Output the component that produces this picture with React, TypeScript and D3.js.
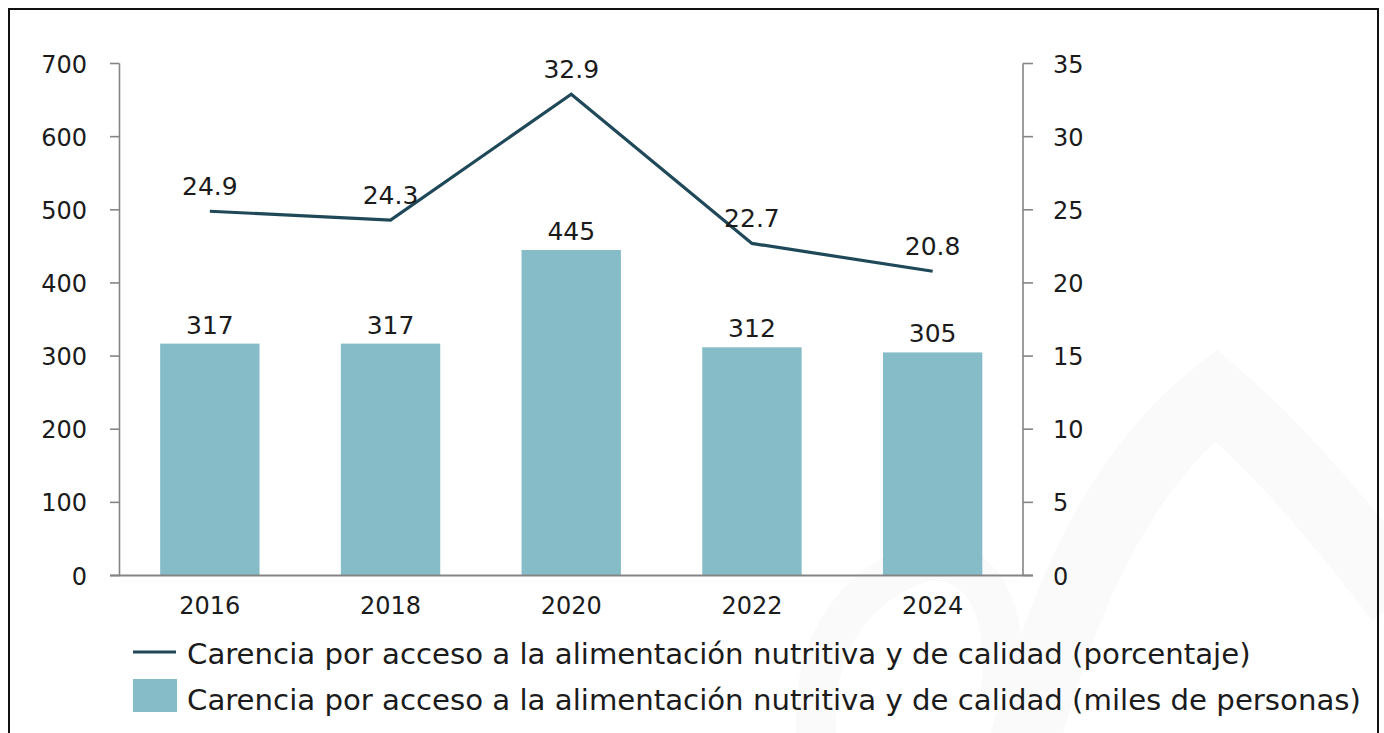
import React from "react";
import * as d3 from "d3";

const years = ["2016", "2018", "2020", "2022", "2024"];
const personas = [317, 317, 445, 312, 305];
const porcentaje = [24.9, 24.3, 32.9, 22.7, 20.8];
const leftTicks = [0, 100, 200, 300, 400, 500, 600, 700];
const rightTicks = [0, 5, 10, 15, 20, 25, 30, 35];
const legendLine = "Carencia por acceso a la alimentación nutritiva y de calidad (porcentaje)";
const legendBar = "Carencia por acceso a la alimentación nutritiva y de calidad (miles de personas)";

const W = 1384;
const H = 733;
const plot = { left: 119.5, right: 1023, top: 63.5, bottom: 575.5 };
const FONT = "'DejaVu Sans', sans-serif";
const BAR = "#86bcc7";
const LINE = "#1f4858";
const AXIS = "#858585";
const TEXT = "#1b1b1b";

export default function App() {
  const x = d3
    .scaleBand<string>()
    .domain(years)
    .range([plot.left, plot.right])
    .paddingInner(0.45)
    .paddingOuter(0.225);
  const yL = d3.scaleLinear().domain([0, 700]).range([plot.bottom, plot.top]);
  const yR = d3.scaleLinear().domain([0, 35]).range([plot.bottom, plot.top]);
  const cx = (d: string) => (x(d) as number) + x.bandwidth() / 2;

  const line = d3
    .line<number>()
    .x((_, i) => cx(years[i]))
    .y((d) => yR(d));

  return (
    <svg
      width={W}
      height={H}
      viewBox={`0 0 ${W} ${H}`}
      style={{ position: "absolute", left: 0, top: 0, background: "#fff" }}
    >
      <rect x={0} y={0} width={W} height={H} fill="#fff" />
      {/* faint watermark */}
      <g fill="none" stroke="#fafafa" strokeWidth={70}>
        <path d="M1020,760 C1060,600 1120,470 1216,395 C1280,450 1340,520 1400,600" />
        <path d="M820,760 C800,660 850,580 930,560 C990,560 1010,620 1000,700" strokeWidth={40} />
      </g>
      {/* border */}
      <rect x={9} y={9} width={1369} height={760} fill="none" stroke="#111" strokeWidth={2} />

      {/* bars */}
      {personas.map((v, i) => (
        <rect
          key={years[i]}
          x={x(years[i])}
          y={yL(v)}
          width={x.bandwidth()}
          height={yL(0) - yL(v)}
          fill={BAR}
        />
      ))}

      {/* axes */}
      <line x1={plot.left} x2={plot.left} y1={plot.top} y2={plot.bottom} stroke={AXIS} strokeWidth={1.6} />
      <line x1={plot.right} x2={plot.right} y1={plot.top} y2={plot.bottom} stroke={AXIS} strokeWidth={1.6} />
      <line x1={plot.left - 9.5} x2={plot.right + 10} y1={plot.bottom} y2={plot.bottom} stroke={AXIS} strokeWidth={2.2} />
      {leftTicks.map((t) => (
        <g key={"l" + t}>
          <line x1={plot.left - 9.5} x2={plot.left} y1={yL(t)} y2={yL(t)} stroke={AXIS} strokeWidth={1.6} />
          <text x={87} y={yL(t)} dy="0.38em" textAnchor="end" fontFamily={FONT} fontSize={24} fill={TEXT}>
            {t}
          </text>
        </g>
      ))}
      {rightTicks.map((t) => (
        <g key={"r" + t}>
          <line x1={plot.right} x2={plot.right + 10} y1={yR(t)} y2={yR(t)} stroke={AXIS} strokeWidth={1.6} />
          <text x={1053} y={yR(t)} dy="0.38em" textAnchor="start" fontFamily={FONT} fontSize={24} fill={TEXT}>
            {t}
          </text>
        </g>
      ))}
      {years.map((y) => (
        <text key={"x" + y} x={cx(y)} y={plot.bottom + 38} textAnchor="middle" fontFamily={FONT} fontSize={24} fill={TEXT}>
          {y}
        </text>
      ))}

      {/* line */}
      <path d={line(porcentaje) || ""} fill="none" stroke={LINE} strokeWidth={3.2} strokeLinejoin="miter" />

      {/* data labels */}
      {personas.map((v, i) => (
        <text key={"bl" + i} x={cx(years[i])} y={yL(v) - 10} textAnchor="middle" fontFamily={FONT} fontSize={25} fill={TEXT}>
          {v}
        </text>
      ))}
      {porcentaje.map((v, i) => (
        <text key={"ll" + i} x={cx(years[i])} y={yR(v) - 16} textAnchor="middle" fontFamily={FONT} fontSize={25} fill={TEXT}>
          {v.toFixed(1)}
        </text>
      ))}

      {/* legend */}
      <line x1={133} x2={176} y1={652} y2={652} stroke={LINE} strokeWidth={3.2} />
      <text x={187} y={664} fontFamily={FONT} fontSize={29.2} fill={TEXT}>
        {legendLine}
      </text>
      <rect x={133} y={679} width={44} height={33} fill={BAR} />
      <text x={187} y={710} fontFamily={FONT} fontSize={29.2} fill={TEXT}>
        {legendBar}
      </text>
    </svg>
  );
}
